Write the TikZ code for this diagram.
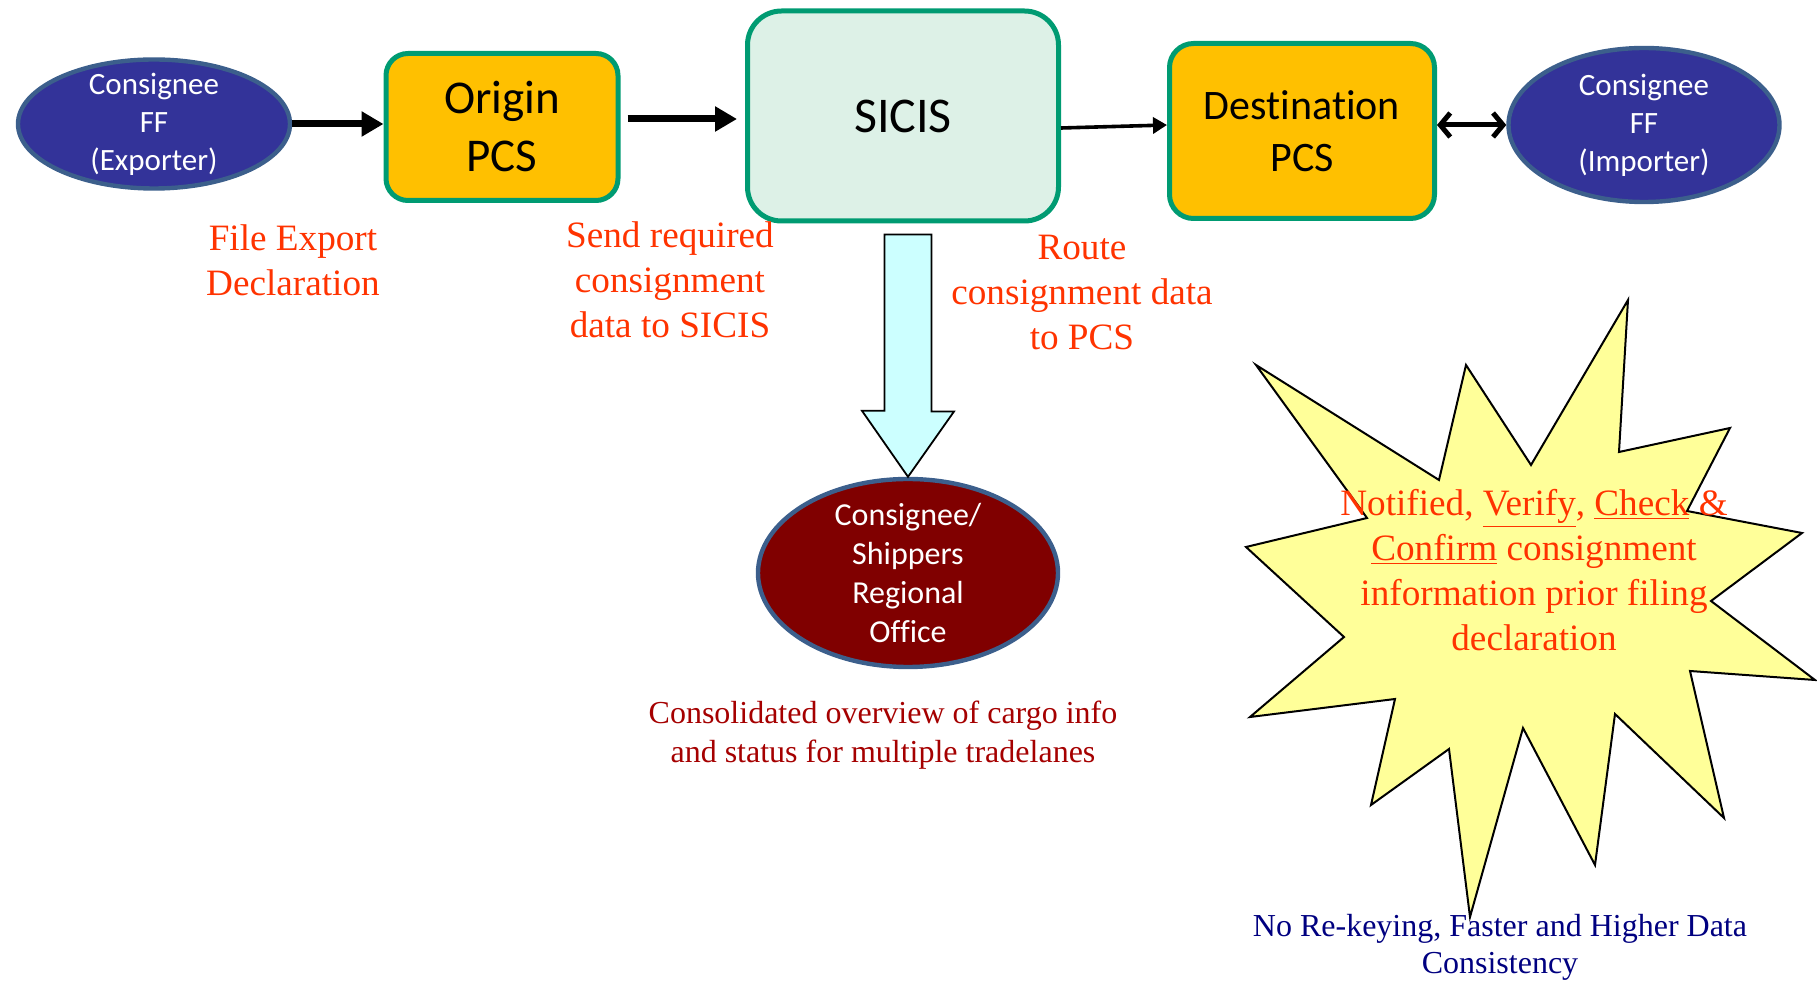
\documentclass[tikz,border=0pt]{standalone}
\usepackage{fontspec}
\setmainfont{Liberation Serif}
\newfontfamily\calibri[Ligatures=NoCommon]{Carlito}
\usetikzlibrary{shapes.geometric,arrows.meta}

\definecolor{navyfill}{HTML}{333399}
\definecolor{steelrim}{HTML}{3C5F8C}
\definecolor{pcsgold}{HTML}{FFC000}
\definecolor{pcsrim}{HTML}{009B72}
\definecolor{sicisfill}{HTML}{DDF1E7}
\definecolor{labelred}{HTML}{FF3300}
\definecolor{officered}{HTML}{800000}
\definecolor{notered}{HTML}{A50000}
\definecolor{shaftcyan}{HTML}{CCFFFF}
\definecolor{burstyellow}{HTML}{FFFF99}
\definecolor{footblue}{HTML}{000080}

\begin{document}
\begin{tikzpicture}[x=0.5pt, y=-0.5pt,
    party/.style = {draw=steelrim, line width=2.2pt, ellipse, text=white, align=center, inner sep=-8pt, font=\calibri\fontsize{15.5}{19}\selectfont},
    pcs/.style = {draw=pcsrim, line width=2.5pt, fill=pcsgold, align=center},
    note/.style = {text=labelred, align=center, font=\fontsize{18.6}{22.5}\selectfont},
    flow/.style = {-{Triangle[length=11pt, width=12pt]}, line width=3.5pt}]

    \useasboundingbox (0,0) rectangle (1817,983);

    % the chain
    \node[party, fill=navyfill, minimum width=136pt, minimum height=64.5pt] (exporter) at (154,124) {Consignee\\FF\\(Exporter)};
    \node[pcs, rounded corners=11pt, minimum width=116pt, minimum height=73.5pt, font=\calibri\fontsize{23.5}{29}\selectfont] (origin) at (502,127) {Origin\\PCS};
    \node[pcs, fill=sicisfill, rounded corners=17pt, minimum width=155.5pt, minimum height=105pt, font=\calibri\fontsize{25}{30}\selectfont] (sicis) at (903,116) {SICIS};
    \node[pcs, rounded corners=12pt, minimum width=132.5pt, minimum height=87.5pt, font=\calibri\fontsize{21}{26}\selectfont] (dest) at (1302,131) {Destination\\PCS};
    \node[party, fill=navyfill, minimum width=135.5pt, minimum height=77pt] (importer) at (1644,125) {Consignee\\FF\\(Importer)};
    \node[party, fill=officered, minimum width=150pt, minimum height=94pt, font=\calibri\fontsize{16}{19.5}\selectfont] (office) at (908,573) {Consignee/\\Shippers\\Regional\\Office};

    \coordinate (o2) at ([yshift=4pt]origin.east);
    \coordinate (dtop) at ([xshift=2.5pt,yshift=-5.5pt]sicis.south);

    \draw[flow] (exporter.east) -- (exporter.east -| origin.west);
    \draw[flow, shorten <=3.5pt, shorten >=4pt] (o2) -- (o2 -| sicis.west);
    \draw[-{Triangle[length=7pt, width=8pt]}, line width=1.8pt] ([yshift=-6pt]sicis.east) -- ([yshift=3pt]dest.west);
    \draw[{Straight Barb[length=5pt, width=12pt, line width=2.5pt]}-{Straight Barb[length=5pt, width=12pt, line width=2.5pt]}, line width=2.5pt] (importer.west -| dest.east) -- (importer.west);

    \draw[fill=shaftcyan, line width=0.9pt] (dtop) ++(-11.75pt,0) -- ++(23.5pt,0) -- ++(0,-88.5pt) -- ++(11.25pt,0) -- (office.north) -- ++(-23pt,33pt) -- ++(11.25pt,0) -- cycle;

    % burst
    \draw[fill=burstyellow, line width=1pt] (1256,365) -- (1439,480) -- (1466,365) -- (1531,465) -- (1628,300) -- (1619,452) -- (1730,428) -- (1687,511) -- (1802,533) -- (1711,601) -- (1815,680) -- (1690,671) -- (1724,818) -- (1615,714) -- (1595,865) -- (1523,728) -- (1470,917) -- (1449,749) -- (1371,805) -- (1395,699) -- (1250,717) -- (1344,637) -- (1246,547) -- (1367,518) -- cycle;

    % labels
    \node[note] (lblfile) at (293,260) {File Export\\Declaration};
    \node[note] (lblsend) at (670,280) {Send required\\consignment\\data to SICIS};
    \node[note] (lblroute) at (1082,293) {Route\\consignment data\\to PCS};
    \node[note] (lblnotify) at (1534,570) {Notified, \underline{Verify}, \underline{Check} \&\\\underline{Confirm} consignment\\information prior filing\\declaration};
    \node[align=center, text=notered, font=\fontsize{16}{19.5}\selectfont] (lbloverview) at (883,735) {Consolidated overview of cargo info\\and status for multiple tradelanes};
    \node[align=center, text=footblue, font=\fontsize{16}{18.5}\selectfont] (lblbenefit) at (1500,947) {No Re-keying, Faster and Higher Data\\Consistency};

\end{tikzpicture}
\end{document}
